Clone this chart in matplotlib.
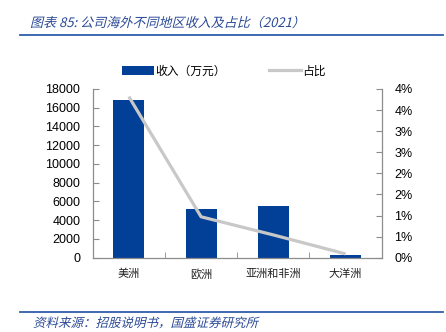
import matplotlib
matplotlib.use("Agg")
import matplotlib.pyplot as plt
from matplotlib.font_manager import FontProperties
from matplotlib.textpath import TextPath
from matplotlib.patches import PathPatch
from matplotlib.transforms import Affine2D
from matplotlib.lines import Line2D

regions = ["美洲", "欧洲", "亚洲和非洲", "大洋洲"]
revenue = [16800, 5150, 5480, 300]          # 收入（万元）
share = [0.0382, 0.0097, 0.0054, 0.0009]     # 占比
rev_ticks = [0, 2000, 4000, 6000, 8000, 10000, 12000, 14000, 16000, 18000]
pct_ticks = [0, 0.005, 0.01, 0.015, 0.02, 0.025, 0.03, 0.035, 0.04]
pct_labels = ["0%", "1%", "1%", "2%", "2%", "3%", "3%", "4%", "4%"]

title = "图表 85: 公司海外不同地区收入及占比（2021）"
source = "资料来源：招股说明书，国盛证券研究所"

W, H, DPI = 446, 332, 100
CJK = "Noto Sans CJK SC"
bar_color = "#023F97"
line_color = "#C8C8C8"
axis_color = "#8C8C8C"
head_color = "#2A4A96"

fig = plt.figure(figsize=(W / DPI, H / DPI), dpi=DPI)
ax = fig.add_axes([92.7 / W, 1 - 257.7 / H, 289 / W, 168.7 / H])
ax2 = ax.twinx()

x = list(range(len(regions)))
bars = ax.bar(x, revenue, width=0.43, color=bar_color, zorder=2)
line, = ax2.plot(x, share, color=line_color, lw=2.3, solid_capstyle="butt")

ax.set_xlim(-0.5, len(regions) - 0.5)
ax.set_ylim(0, 18000)
ax2.set_ylim(0, 0.04)
ax.set_yticks(rev_ticks)
ax.set_yticklabels([str(v) for v in rev_ticks], family="Liberation Sans", fontsize=9)
ax2.set_yticks(pct_ticks)
ax2.set_yticklabels(pct_labels, family="Liberation Sans", fontsize=9)

ax.set_xticks(x)
ax.set_xticklabels(regions, family=CJK, weight="light", fontsize=8, color="#222222")
ax.set_xticks([0.5, 1.5, 2.5], minor=True)
ax.tick_params(axis="x", which="major", length=0, pad=8)
ax.tick_params(axis="x", which="minor", direction="in", length=4, color=axis_color)

ax.tick_params(axis="y", direction="in", length=4, color=axis_color, pad=9)
ax2.tick_params(axis="y", direction="in", length=4, color=axis_color, pad=9)

for a in (ax, ax2):
    a.spines["top"].set_visible(False)
    for s in ("left", "right", "bottom"):
        a.spines[s].set_color(axis_color)
        a.spines[s].set_linewidth(0.9)
ax.spines["right"].set_visible(False)
ax2.spines["left"].set_visible(False)
ax2.spines["bottom"].set_visible(False)

# legend above the plot
handles = [bars, Line2D([], [], color=line_color, lw=2.3)]
fig.legend(handles, ["收入（万元）", "占比"], loc="center",
           bbox_to_anchor=(224 / W, 1 - 71 / H), ncol=2, frameon=False,
           prop=FontProperties(family=CJK, weight="light", size=8.5),
           handlelength=2.7, handletextpad=0.15, columnspacing=3.6, borderpad=0)


def slanted(s, x0, y0, size, color):
    # oblique text built from a path, since the CJK font has no italic face
    tp = TextPath((0, 0), s, prop=FontProperties(family=CJK, weight="light", size=size))
    tr = Affine2D().skew_deg(14, 0).scale(DPI / 72).translate(x0, H - y0)
    fig.add_artist(PathPatch(tp, transform=tr, color=color, lw=0))


slanted(title, 30, 27, 9.4, head_color)
slanted(source, 33, 327, 9.0, head_color)

fig.add_artist(Line2D([20 / W, 443 / W], [1 - 34.5 / H] * 2, color="#2F5DAA", lw=1.3))
fig.add_artist(Line2D([20 / W, 443 / W], [1 - 311.5 / H] * 2, color="#2F5DAA", lw=1.3))

fig.savefig("out.png", dpi=DPI)
